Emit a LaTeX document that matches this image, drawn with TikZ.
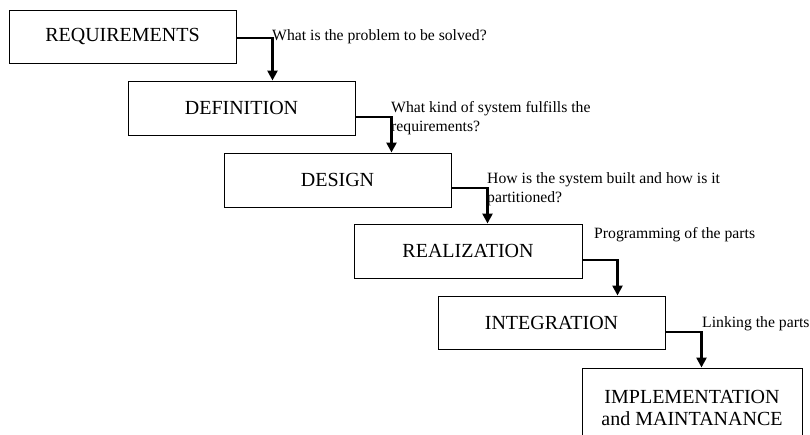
\documentclass[tikz,border=0pt]{standalone}
\usepackage{fontspec}
\setmainfont{Liberation Serif}
\usetikzlibrary{arrows.meta}
\begin{document}
\begin{tikzpicture}[x=1pt,y=-1pt,
  phase/.style={draw=black,line width=1pt,rectangle,inner sep=0pt,
    font=\fontsize{20}{22}\selectfont,align=center},
  flow/.style={line width=2.7pt,-{Triangle[width=10pt,length=10pt]}},
  note/.style={anchor=west,inner sep=0pt,align=left,
    font=\fontsize{15.7}{19}\selectfont}]
\useasboundingbox (0,0) rectangle (810,434);
\clip (0,0) rectangle (810,434);

% phases of the waterfall
\node[phase,minimum width=227pt,minimum height=53pt] (req) at (122.5,36.5) {REQUIREMENTS};
\node[phase,minimum width=227pt,minimum height=54pt] (def) at (241.5,108) {DEFINITION};
\node[phase,minimum width=227pt,minimum height=54pt] (des) at (337.5,180) {DESIGN};
\node[phase,minimum width=228pt,minimum height=54pt] (rea) at (468,251) {REALIZATION};
\node[phase,minimum width=227pt,minimum height=53pt] (int) at (551.5,322.5) {INTEGRATION};
\node[phase,minimum width=220pt,minimum height=90pt,text depth=0pt] (imp) at (692,413)
  {\raisebox{22.5pt}{\begin{tabular}{@{}c@{}}IMPLEMENTATION\\and MAINTANANCE\end{tabular}}};

% step-down connectors
\draw[flow] ([yshift=-1.5pt]req.east) -- ++(36,0) coordinate (k1) -- (k1 |- def.north);
\draw[flow] ([yshift=-9pt]def.east) -- ++(36,0) coordinate (k2) -- (k2 |- des.north);
\draw[flow] ([yshift=-8pt]des.east) -- ++(36,0) coordinate (k3) -- (k3 |- rea.north);
\draw[flow] ([yshift=-9pt]rea.east) -- ++(35,0) coordinate (k4) -- (k4 |- int.north);
\draw[flow] ([yshift=-9.5pt]int.east) -- ++(36,0) coordinate (k5) -- (k5 |- imp.north);

% guiding questions
\node[note] (q1) at (272,37) {What is the problem to be solved?};
\node[note] (q2) at (391,118.5) {What kind of system fulfills the\\requirements?};
\node[note] (q3) at (487,189.5) {How is the system built and how is it\\partitioned?};
\node[note] (q4) at (594,235) {Programming of the parts};
\node[note] (q5) at (702,324) {Linking the parts};
\end{tikzpicture}
\end{document}
